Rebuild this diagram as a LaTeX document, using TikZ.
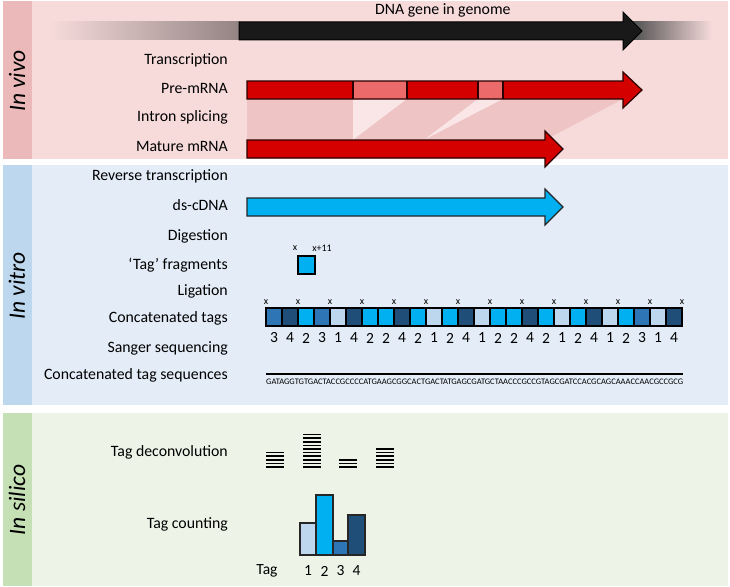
\documentclass[tikz,border=0pt]{standalone}
\usepackage{fontspec}
\usepackage{graphicx}
\setmainfont{Carlito}
\definecolor{vivoBg}{HTML}{F7DBDB}
\definecolor{vivoStrip}{HTML}{EBB9B9}
\definecolor{vitroBg}{HTML}{E3ECF7}
\definecolor{vitroStrip}{HTML}{BDD7EE}
\definecolor{silicoBg}{HTML}{EDF4E7}
\definecolor{silicoStrip}{HTML}{C5E0B4}
\definecolor{exon}{HTML}{D40000}
\definecolor{intron}{HTML}{EC6A6A}
\definecolor{splice}{HTML}{EFC4C4}
\definecolor{gap}{HTML}{FAE6E6}
\definecolor{tag1}{HTML}{BDD7EE}
\definecolor{tag2}{HTML}{00B0F0}
\definecolor{tag3}{HTML}{2E75B6}
\definecolor{tag4}{HTML}{1F4E79}
\begin{document}
\begin{tikzpicture}[x=1pt,y=1pt,
  lbl/.style={anchor=mid east, font=\fontsize{15.8}{18}\selectfont},
  side/.style={rotate=90, font=\fontsize{23.5}{26}\selectfont\itshape},
  small/.style={font=\fontsize{10}{11}\selectfont},
  tagbox/.style={draw=black, line width=1.2pt, minimum width=16pt, minimum height=18pt},
  digit/.style={font=\fontsize{15.5}{17}\selectfont},
  bar/.style={draw=black!85, line width=1.3pt}]
\tikzstyle{every node}+=[inner sep=0pt]
\useasboundingbox (0,0) rectangle (730,-586);
% panels
\fill [vivoBg] (32,-1) rectangle (728,-159);
\fill [vivoStrip] (3,-1) rectangle (32,-159);
\fill [vitroBg] (32,-165) rectangle (728,-405);
\fill [vitroStrip] (3,-165) rectangle (32,-405);
\fill [silicoBg] (32,-413) rectangle (728,-586);
\fill [silicoStrip] (3,-413) rectangle (32,-586);
\node [side] (vivo) at (17,-81) {In vivo};
\node [side] (vitro) at (17,-286) {In vitro};
\node [side] (silico) at (17,-500) {In silico};
% DNA
\shade [left color=vivoBg, right color=black!40!vivoBg] (50,-22) rectangle (239,-40);
\shade [left color=black!70, right color=vivoBg] (630,-22) rectangle (712,-40);
\filldraw [fill=black!90, draw=black, line width=1pt] (239,-22) -- (623,-22) -- (623,-12) -- (642,-31) -- (623,-50) -- (623,-40) -- (239,-40) -- cycle;
\node [anchor=mid west, font=\fontsize{15.8}{18}\selectfont] (dna) at (375,-12) {DNA gene in genome};
% splicing
\fill [splice] (247,-99) -- (353,-99) -- (353,-140) -- (247,-140) -- cycle;
\fill [gap] (353,-99) -- (407,-99) -- (353,-140) -- cycle;
\fill [splice] (407,-99) -- (478,-99) -- (424,-140) -- (353,-140) -- cycle;
\fill [gap] (478,-99) -- (503,-99) -- (424,-140) -- cycle;
\fill [splice] (503,-99) -- (623,-99) -- (545,-140) -- (424,-140) -- cycle;
% pre-mRNA
\fill [exon] (247,-81) -- (623,-81) -- (623,-72) -- (642,-90) -- (623,-108) -- (623,-99) -- (247,-99) -- cycle;
\fill [intron] (353,-81) rectangle (407,-99);
\fill [intron] (478,-81) rectangle (503,-99);
\draw [black!80!exon, line width=1.2pt] (353,-81) -- (353,-99) (407,-81) -- (407,-99) (478,-81) -- (478,-99) (503,-81) -- (503,-99);
\draw [black!80!exon, line width=1.2pt] (247,-81) -- (623,-81) -- (623,-72) -- (642,-90) -- (623,-108) -- (623,-99) -- (247,-99) -- cycle;
% mature mRNA
\filldraw [fill=exon, draw=black!80!exon, line width=1.2pt] (247,-140) -- (545,-140) -- (545,-131) -- (563,-149) -- (545,-167) -- (545,-158) -- (247,-158) -- cycle;
% ds-cDNA
\filldraw [fill=tag2, draw=black!85, line width=1.2pt] (247,-198) -- (545,-198) -- (545,-189) -- (563,-207) -- (545,-225) -- (545,-216) -- (247,-216) -- cycle;
% tag fragment
\filldraw [fill=tag2, draw=black, line width=1.2pt] (298,-256) rectangle (315,-274);
\node [small] (fx) at (295,-248) {x};
\node [small] (fx11) at (322,-248) {x+11};
% concatenated tags
\foreach \t [count=\i from 0] in {3,4,2,3,1,4,2,2,4,2,1,2,4,1,2,2,4,2,1,2,4,1,2,3,1,4} {
  \node [tagbox, fill=tag\t] (t\i) at ({274+16*\i},-317) {};
  \node [digit] (d\i) at ({274+16*\i},-338) {\t};
}
\foreach \k in {0,...,13}
  \node [small] (x\k) at ({266+32*\k},-302) {x};
% sequence
\draw [line width=2pt] (266,-374) -- (683,-374);
\node [anchor=north west] (seq) at (266,-379) {\resizebox{417pt}{!}{\fontsize{8}{9}\selectfont GATAGGTGTGACTACCGCCCCATGAAGCGGCACTGACTATGAGCGATGCTAACCCGCCGTAGCGATCCACGCAGCAAACCAACGCCGCG}};
% deconvolution
\foreach \cx/\n in {275/5,312/10,348/3,385/6}
  \foreach \j in {1,...,\n}
    \draw [line width=1.5pt] ({\cx-9},{-467+3.6*(\j-1)}) -- ++(18,0);
% counting
\draw [bar, fill=tag1] (300,-555) rectangle (316,-523);
\draw [bar, fill=tag2] (316,-555) rectangle (333,-495);
\draw [bar, fill=tag3] (333,-555) rectangle (348,-541);
\draw [bar, fill=tag4] (348,-555) rectangle (365,-515);
\node [digit] (tag) at (267,-571) {Tag};
\node [digit] (b1) at (308,-571) {1};
\node [digit] (b2) at (324.5,-571) {2};
\node [digit] (b3) at (340.5,-571) {3};
\node [digit] (b4) at (356.5,-571) {4};
% labels
\node [lbl] (trans) at (228,-62) {Transcription};
\node [lbl] (pre) at (228,-91) {Pre-mRNA};
\node [lbl] (intr) at (228,-119) {Intron splicing};
\node [lbl] (mat) at (228,-149) {Mature mRNA};
\node [lbl] (rev) at (228,-178) {Reverse transcription};
\node [lbl] (cdna) at (228,-208) {ds-cDNA};
\node [lbl] (dig) at (228,-238) {Digestion};
\node [lbl] (frag) at (228,-267) {‘Tag’ fragments};
\node [lbl] (lig) at (228,-293) {Ligation};
\node [lbl] (ctags) at (228,-320) {Concatenated tags};
\node [lbl] (sang) at (228,-350) {Sanger sequencing};
\node [lbl] (cseq) at (228,-377) {Concatenated tag sequences};
\node [lbl] (deconv) at (228,-454) {Tag deconvolution};
\node [lbl] (count) at (228,-526) {Tag counting};
\end{tikzpicture}
\end{document}
